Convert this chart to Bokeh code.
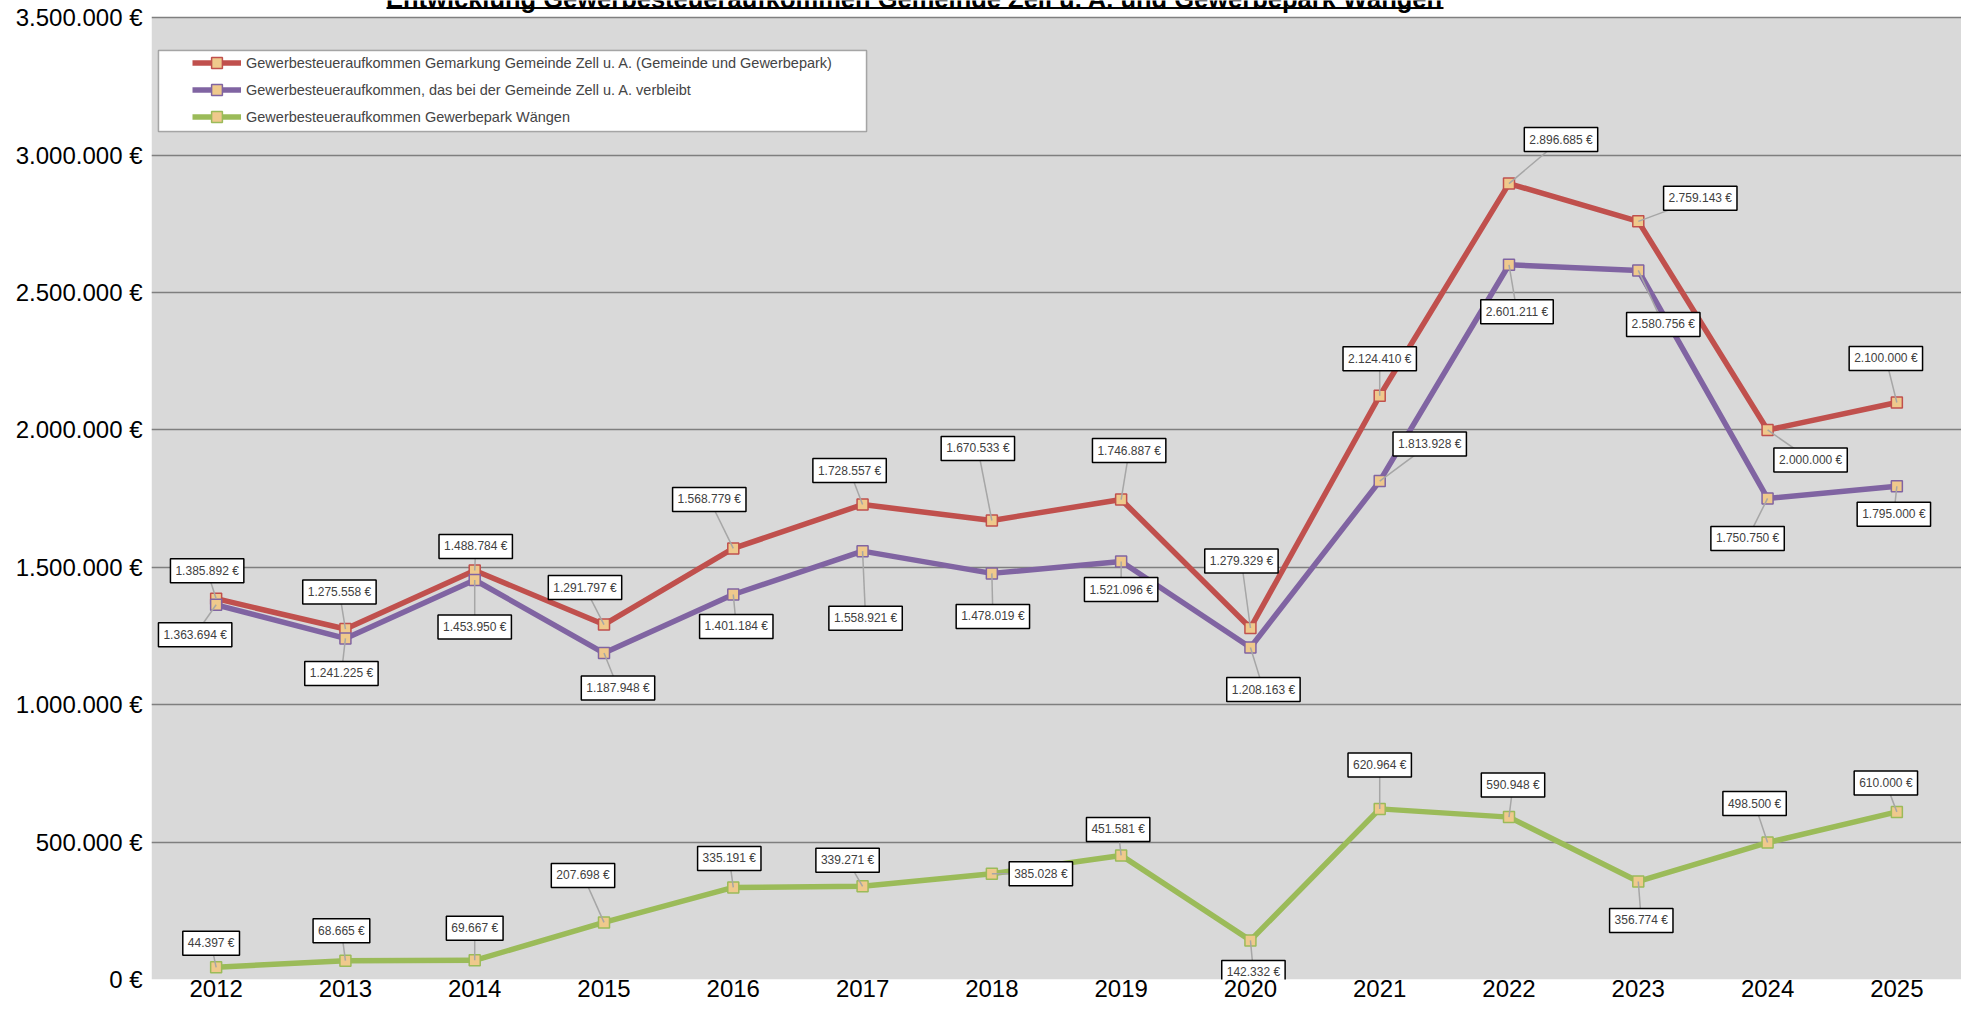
from bokeh.plotting import figure
from bokeh.models import (ColumnDataSource, Legend, LegendItem, FixedTicker,
                          BoxAnnotation, Range1d)
from bokeh.embed import file_html
from bokeh.resources import INLINE
from bokeh.core.properties import value

# ---------------- data ----------------
years = ["2012", "2013", "2014", "2015", "2016", "2017", "2018",
         "2019", "2020", "2021", "2022", "2023", "2024", "2025"]
gemarkung = [1385892, 1275558, 1488784, 1291797, 1568779, 1728557, 1670533,
             1746887, 1279329, 2124410, 2896685, 2759143, 2000000, 2100000]
verbleib = [1363694, 1241225, 1453950, 1187948, 1401184, 1558921, 1478019,
            1521096, 1208163, 1813928, 2601211, 2580756, 1750750, 1795000]
waengen = [44397, 68665, 69667, 207698, 335191, 339271, 385028,
           451581, 142332, 620964, 590948, 356774, 498500, 610000]
series_names = [
    "Gewerbesteueraufkommen Gemarkung Gemeinde Zell u. A. (Gemeinde und Gewerbepark)",
    "Gewerbesteueraufkommen, das bei der Gemeinde Zell u. A. verbleibt",
    "Gewerbesteueraufkommen Gewerbepark Wängen",
]
y_ticks = [0, 500000, 1000000, 1500000, 2000000, 2500000, 3000000, 3500000]
y_tick_labels = ["0 €", "500.000 €", "1.000.000 €", "1.500.000 €",
                 "2.000.000 €", "2.500.000 €", "3.000.000 €", "3.500.000 €"]
title_text = "Entwicklung Gewerbesteueraufkommen Gemeinde Zell u. A. und Gewerbepark Wängen"

# ---------------- layout (screen px offsets of the value labels) ----------------
off_red_dx = [-9, -6, 1, -19, -24, -13, -14, 8, -9, 0, 52, 62, 43, -11]
off_red_dy = [-28, -37, -24, -37, -49, -34, -72, -49, -67, -37, -44, -23, 30, -44]
off_pur_dx = [-21, -4, 0, 14, 3, 3, 1, 0, 13, 50, 8, 25, -20, -3]
off_pur_dy = [30, 35, 47, 35, 32, 67, 43, 28, 42, -37, 47, 54, 40, 28]
off_grn_dx = [-5, -4, 0, -21, -4, -15, 49, -3, 3, 0, 4, 3, -13, -11]
off_grn_dy = [-24, -30, -32, -47, -29, -26, 0, -26, 32, -44, -32, 39, -39, -29]

W, H = 1961, 1008
BL, BR, BT, BB = 151, 0, 0, 29
frame_w = W - BL - BR
frame_h = H - BT - BB
top_px = 17.3          # screen position of the highest grid line
n = len(years)
px_y = (frame_h - top_px) / y_ticks[-1]
y_max = frame_h / px_y
px_x = frame_w / n


def cx2d(cx):
    return (cx - BL) / px_x - 0.5


def cy2d(cy):
    return y_max - (cy - BT) / px_y


colors = ["#C0504D", "#8064A2", "#9BBB59"]
marker_fill = "#EFC98C"
FONT = "Liberation Sans"

p = figure(width=W, height=H, x_range=Range1d(-0.5, n - 0.5),
           y_range=Range1d(0, y_max), output_backend="svg",
           toolbar_location=None, title=None,
           min_border_left=BL, min_border_right=BR,
           min_border_top=BT, min_border_bottom=BB)
p.background_fill_color = "white"
p.border_fill_color = "white"
p.outline_line_color = None

# gray plot area
p.add_layout(BoxAnnotation(bottom=0, top=y_ticks[-1], fill_color="#D9D9D9",
                           fill_alpha=1.0, line_color=None, level="image"))

# axes
xs = list(range(n))
p.xaxis.ticker = FixedTicker(ticks=xs)
p.xaxis.major_label_overrides = {i: y for i, y in zip(xs, years)}
p.yaxis.ticker = FixedTicker(ticks=y_ticks)
p.yaxis.major_label_overrides = dict(zip(y_ticks, y_tick_labels))
for ax in (p.xaxis, p.yaxis):
    ax.axis_line_color = None
    ax.major_tick_line_color = None
    ax.minor_tick_line_color = None
    ax.major_tick_in = 0
    ax.major_tick_out = 0
    ax.minor_tick_in = 0
    ax.minor_tick_out = 0
    ax.axis_label_standoff = 0
    ax.major_label_text_font = FONT
    ax.major_label_text_font_size = "24px"
    ax.major_label_text_color = "black"
p.xaxis.major_label_standoff = 0
p.yaxis.major_label_standoff = 9
p.xgrid.visible = False
p.ygrid.ticker = FixedTicker(ticks=y_ticks)
p.ygrid.grid_line_color = "#7F7F7F"
p.ygrid.grid_line_width = 1.5


def fmt(v):
    return f"{v:,}".replace(",", ".") + " €"


series = [(gemarkung, off_red_dx, off_red_dy),
          (verbleib, off_pur_dx, off_pur_dy),
          (waengen, off_grn_dx, off_grn_dy)]

items = []
label_sources = []
for (vals, dxs, dys), col, name in zip(series, colors, series_names):
    src = ColumnDataSource(dict(
        x=xs, y=vals,
        lx=[x + dx / px_x for x, dx in zip(xs, dxs)],
        ly=[v - dy / px_y for v, dy in zip(vals, dys)],
        txt=[fmt(v) for v in vals],
    ))
    lr = p.line("x", "y", source=src, line_color=col, line_width=5.5)
    sr = p.scatter("x", "y", source=src, marker="square", size=11,
                   fill_color=marker_fill, line_color=col, line_width=1.5)
    items.append(LegendItem(label=name, renderers=[lr, sr]))
    label_sources.append(src)

for src in label_sources:
    p.segment("x", "y", "lx", "ly", source=src, line_color="#A6A6A6",
              line_width=1.5)

for src in label_sources:
    p.text("lx", "ly", text="txt", source=src, text_align="center",
           text_baseline="middle", text_font=value(FONT),
           text_font_size="12px", text_color="#404040",
           background_fill_color="white", border_line_color="black",
           border_line_width=1.5, padding=5)

# legend box + legend
p.add_layout(BoxAnnotation(left=cx2d(158), right=cx2d(866),
                           top=cy2d(50), bottom=cy2d(131),
                           fill_color="white", fill_alpha=1.0,
                           line_color="black", line_width=1.5))
legend = Legend(items=items, location="top_left", margin=41, padding=0,
                spacing=0, glyph_width=49, glyph_height=27, label_height=27,
                label_standoff=5, label_text_font=FONT,
                label_text_font_size="14.5px", background_fill_alpha=0,
                border_line_color=None, title=" ", title_text_font_size="1px",
                title_standoff=7)
p.add_layout(legend)

# title (cut at the top as in the original)
p.text(x=[cx2d(914)], y=[cy2d(-2)], text=[title_text], text_align="center",
       text_baseline="alphabetic", text_font=value(FONT),
       text_font_size="25.5px", text_font_style="bold", text_color="black")
p.segment(x0=[cx2d(386)], y0=[cy2d(7.5)], x1=[cx2d(1443)], y1=[cy2d(7.5)],
          line_color="black", line_width=2)

open("out.html", "w").write(file_html(p, INLINE))
